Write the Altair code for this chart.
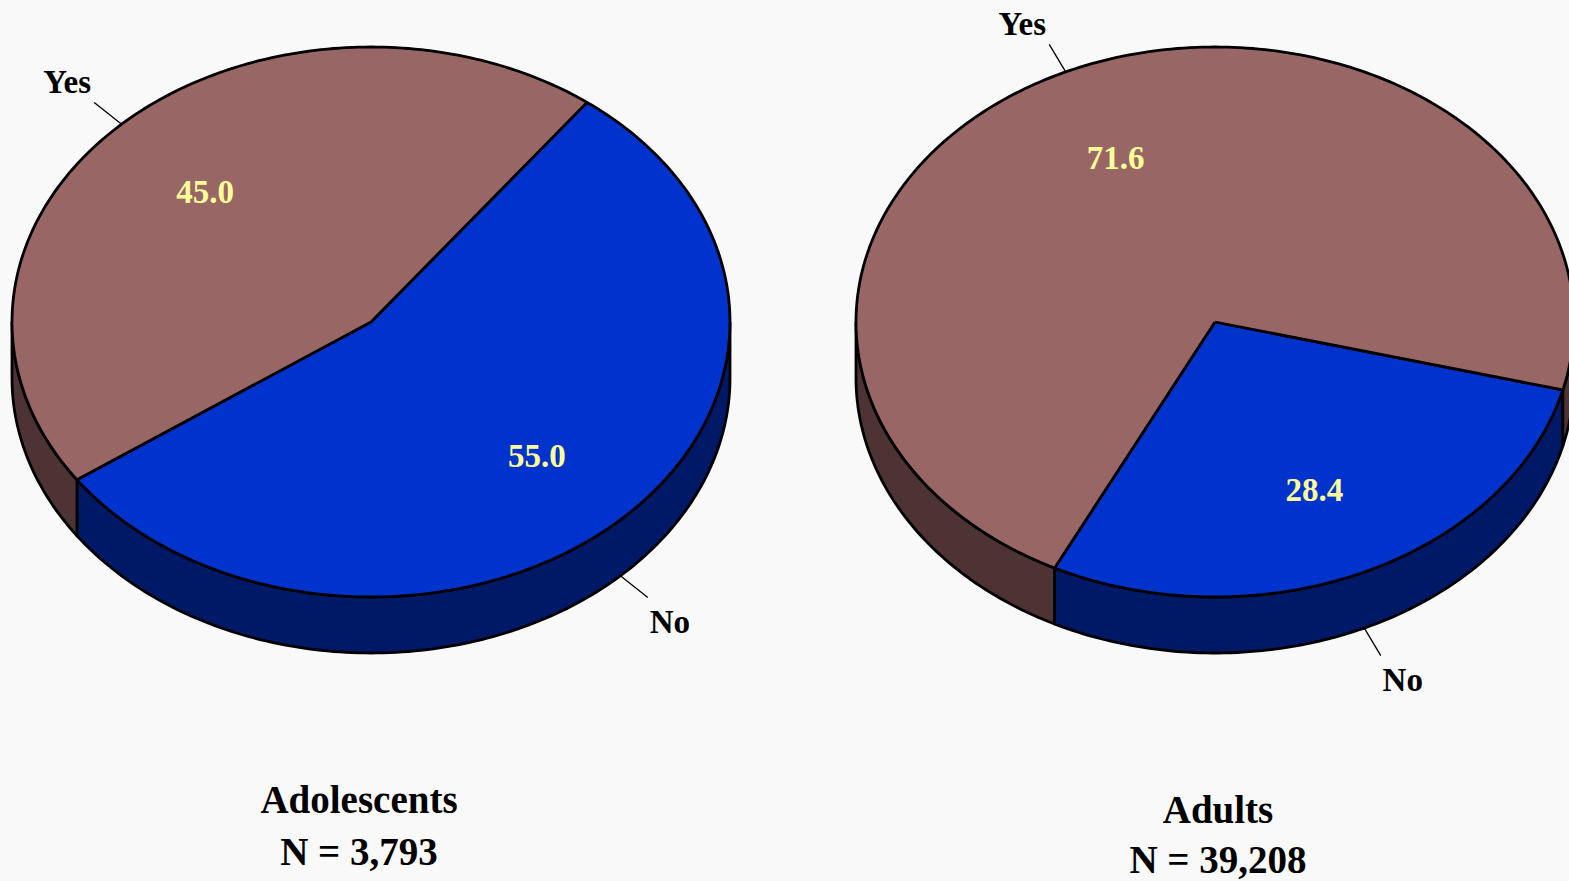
import numpy as np
import pandas as pd
import altair as alt

# ---- data ----
groups = ["Adolescents", "Adults"]
sample_sizes = ["N = 3,793", "N = 39,208"]
categories = ["No", "Yes"]          # clockwise drawing order
no_pct = [55.0, 28.4]
yes_pct = [45.0, 71.6]

# ---- layout / style parameters ----
W, H = 1569, 881
centers_x = [371, 1215]
center_y = 322
rx, ry = 359, 275
depth = 56
start_angle = [37.0, 104.3]        # where the "No" slice starts (deg clockwise from 12 o'clock)
top_colors = {"Yes": "#996666", "No": "#0033CC"}
side_colors = {"Yes": "#4D3333", "No": "#001966"}
title_pos = [(359, 801, 853), (1218, 811, 861)]
FONT = "Liberation Serif"


def pt(cx, t, f=1.0, dz=0.0):
    r = np.radians(t)
    return cx + f * rx * np.sin(r), center_y - f * ry * np.cos(r) + dz


tops, walls, leaders, labels_out, labels_in = [], [], [], [], []
for gi, g in enumerate(groups):
    cx = centers_x[gi]
    vals = {"No": no_pct[gi], "Yes": yes_pct[gi]}
    a = start_angle[gi]
    for cat in categories:
        b = a + vals[cat] * 3.6
        sid = f"{g}-{cat}"
        # top face
        ts = np.linspace(a, b, max(3, int(abs(b - a)) + 1))
        pts = [(cx, center_y)] + [pt(cx, t) for t in ts] + [(cx, center_y)]
        for i, (x, y) in enumerate(pts):
            tops.append({"shape": sid, "i": i, "x": x, "y": y, "fill": top_colors[cat]})
        # front wall (visible where 90 <= t <= 270 mod 360)
        for lo, hi in [(90, 270), (450, 630)]:
            s, e = max(a, lo), min(b, hi)
            if e > s:
                ws = np.linspace(s, e, max(3, int(e - s) + 1))
                wp = [pt(cx, t) for t in ws] + [pt(cx, t, dz=depth) for t in ws[::-1]]
                wp.append(wp[0])
                wid = f"{sid}-{lo}"
                for i, (x, y) in enumerate(wp):
                    walls.append({"shape": wid, "i": i, "x": x, "y": y, "fill": side_colors[cat]})
        # labels
        mid = (a + b) / 2
        front = 90 < (mid % 360) < 270
        dz = depth if front else 0.0
        x0, y0 = pt(cx, mid, 1.0, dz)
        x1, y1 = pt(cx, mid, 1.11, dz)
        leaders.append({"x": x0, "y": y0, "x2": x1, "y2": y1})
        sx = np.sign(np.sin(np.radians(mid)))
        sy = -np.sign(np.cos(np.radians(mid)))
        ox = 22 if front else 27
        oy = 23 if front else 21
        labels_out.append({"x": x1 + sx * ox, "y": y1 + sy * oy + 2, "text": cat})
        xi, yi = pt(cx, mid, 0.665)
        labels_in.append({"x": xi, "y": yi + 3, "text": f"{vals[cat]:.1f}"})
        a = b

titles = []
for gi, g in enumerate(groups):
    tx, ty1, ty2 = title_pos[gi]
    titles.append({"x": tx, "y": ty1, "text": g})
    titles.append({"x": tx, "y": ty2, "text": sample_sizes[gi]})

xs = alt.Scale(domain=[0, W], range=[0, W])
ys = alt.Scale(domain=[0, H], range=[0, H])
X = alt.X("x:Q", scale=xs, axis=None)
Y = alt.Y("y:Q", scale=ys, axis=None)


def polys(df):
    return alt.Chart(df).mark_line(
        filled=True, stroke="black", strokeWidth=2.8, strokeJoin="round"
    ).encode(
        x=X, y=Y, detail="shape:N", order=alt.Order("i:Q"),
        color=alt.Color("fill:N", scale=None),
    )


wall_layer = polys(pd.DataFrame(walls))
top_layer = polys(pd.DataFrame(tops))

leader_layer = alt.Chart(pd.DataFrame(leaders)).mark_rule(
    color="black", strokeWidth=1.3
).encode(x=X, y=Y, x2="x2:Q", y2="y2:Q")

out_layer = alt.Chart(pd.DataFrame(labels_out)).mark_text(
    font=FONT, fontWeight="bold", fontSize=33, color="black", baseline="middle", align="center"
).encode(x=X, y=Y, text="text:N")

in_layer = alt.Chart(pd.DataFrame(labels_in)).mark_text(
    font=FONT, fontWeight="bold", fontSize=33, color="#FFFF99", baseline="middle", align="center"
).encode(x=X, y=Y, text="text:N")

title_layer = alt.Chart(pd.DataFrame(titles)).mark_text(
    font=FONT, fontWeight="bold", fontSize=39, color="black", baseline="middle", align="center"
).encode(x=X, y=Y, text="text:N")

chart = alt.layer(
    wall_layer, top_layer, leader_layer, out_layer, in_layer, title_layer
).properties(
    width=W, height=H, padding=0, autosize=alt.AutoSizeParams(type="none"),
    background="#F9F9F9",
).configure_view(stroke=None, clip=False)

chart.save("out.html", embed_options={"renderer": "svg", "actions": False})
